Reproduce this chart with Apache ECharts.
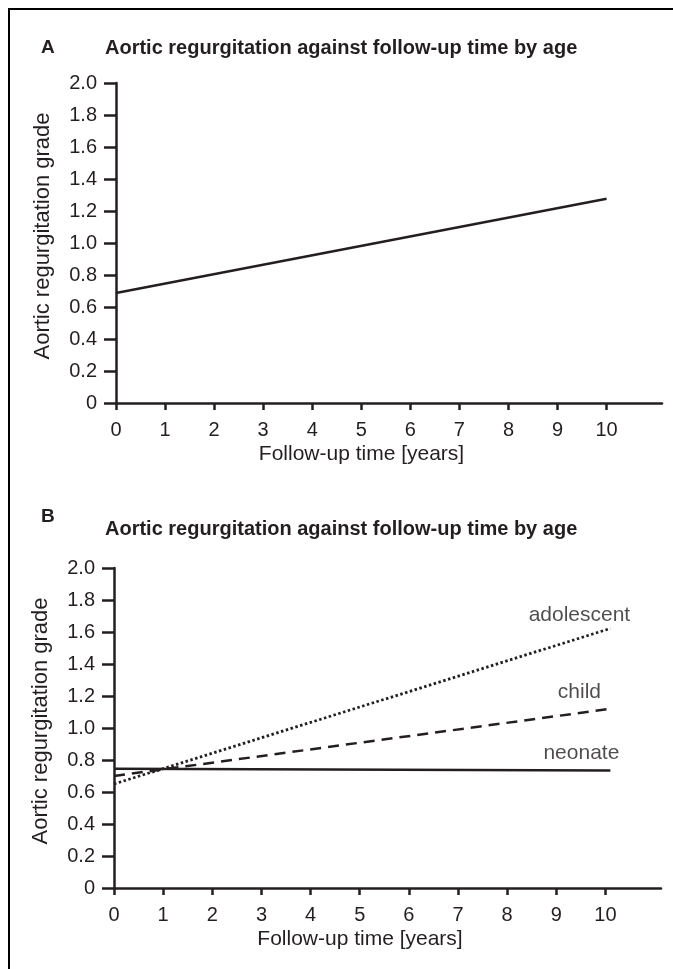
<!DOCTYPE html>
<html>
<head>
<meta charset="utf-8">
<script src="https://cdn.jsdelivr.net/npm/echarts@6/dist/echarts.min.js"></script>
<style>html,body{margin:0;padding:0;background:#fff;}#c{width:673px;height:969px;}</style>
</head>
<body>
<div id="c"></div>
<script>
// ---- data ----
const titleText = 'Aortic regurgitation against follow-up time by age';
const xTicks = [0, 1, 2, 3, 4, 5, 6, 7, 8, 9, 10];
const yTicks = [0, 0.2, 0.4, 0.6, 0.8, 1.0, 1.2, 1.4, 1.6, 1.8, 2.0];
const xAxisName = 'Follow-up time [years]';
const yAxisName = 'Aortic regurgitation grade';

// Panel A: overall
const allX = [0, 10];
const allY = [0.688, 1.276];

// Panel B: by age group
const ageX = [0, 10.1];
const neonateY = [0.745, 0.735];
const childY = [0.700, 1.120];
const adolescentY = [0.650, 1.622];

// Panel B: line labels
const labelNames = ['adolescent', 'child', 'neonate'];
const labelX = [9.47, 9.47, 9.51];
const labelY = [1.705, 1.226, 0.843];

// ---- chart ----
const INK = '#231f20';
const FONT = 'Liberation Sans, Arial, Helvetica, sans-serif';
const pair = (xs, ys) => xs.map((x, i) => [x, ys[i]]);

function xAxis(gridIndex) {
  return {
    type: 'value', gridIndex, min: 0, max: 11.13,
    axisLine: { show: true, onZero: false, lineStyle: { color: INK, width: 2.5 } },
    axisTick: { show: true, customValues: xTicks, length: 7, lineStyle: { color: INK, width: 2.5 } },
    axisLabel: { customValues: xTicks, margin: 17, color: INK, fontSize: 20, fontFamily: FONT },
    splitLine: { show: false },
    name: xAxisName, nameLocation: 'middle', nameGap: 41,
    nameTextStyle: { color: INK, fontSize: 21, fontFamily: FONT, padding: [0, 55, 0, 0] }
  };
}
function yAxis(gridIndex) {
  return {
    type: 'value', gridIndex, min: 0, max: 2, interval: 0.2,
    axisLine: { show: true, lineStyle: { color: INK, width: 2.5 } },
    axisTick: { show: true, length: 12, lineStyle: { color: INK, width: 2.5 } },
    axisLabel: { margin: 19, color: INK, fontSize: 20, fontFamily: FONT,
      customValues: yTicks,
      formatter: v => (v === 0 ? '0' : v.toFixed(1)) },
    splitLine: { show: false },
    name: yAxisName, nameLocation: 'middle', nameGap: 62, nameRotate: 90,
    nameTextStyle: { color: INK, fontSize: 22, fontFamily: FONT, padding: [0, 0, 0, 14] }
  };
}
function lineSeries(name, data, xi, yi, type, width) {
  return {
    name, type: 'line', xAxisIndex: xi, yAxisIndex: yi, data, showSymbol: false, symbol: 'none',
    lineStyle: { color: INK, width: width || 2.5, type: type || 'solid', cap: 'butt' },
    silent: true, animation: false
  };
}

const chart = echarts.init(document.getElementById('c'), null, { renderer: 'canvas' });
chart.setOption({
  animation: false,
  backgroundColor: '#fff',
  title: [
    { text: 'A', left: 36, top: 33, textStyle: { fontSize: 19, fontWeight: 'bold', color: INK, fontFamily: FONT } },
    { text: titleText, left: 100, top: 33, textStyle: { fontSize: 20, fontWeight: 'bold', color: INK, fontFamily: FONT } },
    { text: 'B', left: 36, top: 502, textStyle: { fontSize: 19, fontWeight: 'bold', color: INK, fontFamily: FONT } },
    { text: titleText, left: 100, top: 514, textStyle: { fontSize: 20, fontWeight: 'bold', color: INK, fontFamily: FONT } }
  ],
  graphic: [
    { type: 'line', shape: { x1: 9, y1: 9, x2: 9, y2: 969 }, style: { stroke: '#000', lineWidth: 2 } },
    { type: 'line', shape: { x1: 8, y1: 9, x2: 673, y2: 9 }, style: { stroke: '#000', lineWidth: 2 } }
  ],
  grid: [
    { left: 116, top: 83, width: 546, height: 320 },
    { left: 114, top: 568, width: 547, height: 320 }
  ],
  xAxis: [xAxis(0), xAxis(1)],
  yAxis: [yAxis(0), yAxis(1)],
  series: [
    lineSeries('all', pair(allX, allY), 0, 0),
    lineSeries('neonate', pair(ageX, neonateY), 1, 1),
    lineSeries('child', pair(ageX, childY), 1, 1, [11, 7]),
    lineSeries('adolescent', pair(ageX, adolescentY), 1, 1, [2.5, 2.5], 2.8),
    {
      type: 'scatter', xAxisIndex: 1, yAxisIndex: 1, symbolSize: 0, silent: true,
      data: labelNames.map((n, i) => ({ name: n, value: [labelX[i], labelY[i]] })),
      label: { show: true, position: 'inside', formatter: p => p.name,
        color: INK, fontSize: 21, fontFamily: FONT }
    }
  ]
});
</script>
</body>
</html>
